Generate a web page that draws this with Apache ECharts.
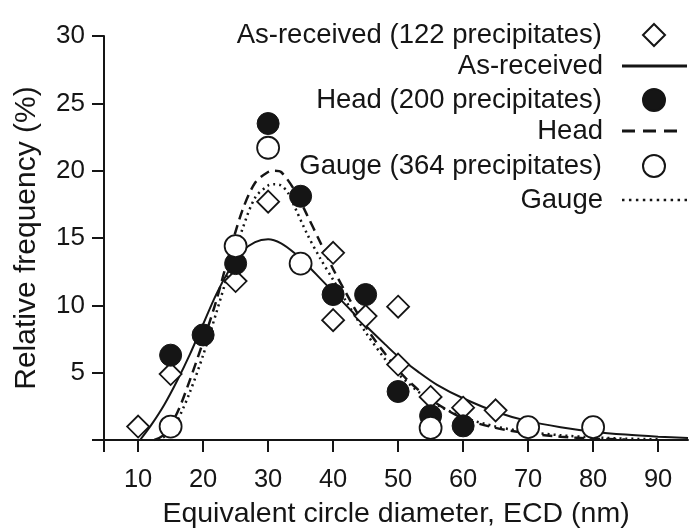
<!DOCTYPE html>
<html>
<head>
<meta charset="utf-8">
<script src="https://cdn.jsdelivr.net/npm/echarts@6/dist/echarts.min.js"></script>
<style>
html,body{margin:0;padding:0;background:#fff;}
#chart{width:690px;height:529px;}
</style>
</head>
<body>
<div id="chart"></div>
<script>
// ---- data ----
const xTickValues = [10, 20, 30, 40, 50, 60, 70, 80, 90];
const yTickValues = [5, 10, 15, 20, 25, 30];

const asReceivedName = 'As-received (122 precipitates)';
const asReceivedFitName = 'As-received';
const headName = 'Head (200 precipitates)';
const headFitName = 'Head';
const gaugeName = 'Gauge (364 precipitates)';
const gaugeFitName = 'Gauge';

// measured points [ECD nm, relative frequency %]
const asReceivedPoints = [[10,1.0],[15,4.9],[25,11.8],[30,17.7],[40,13.9],[40,8.9],[45,9.2],[50,9.9],[50,5.6],[55,3.2],[60,2.4],[65,2.2]];
const headPoints = [[15,6.3],[20,7.8],[25,13.1],[30,23.5],[35,18.1],[40,10.8],[45,10.8],[50,3.6],[55,1.8],[60,1.05]];
const gaugePoints = [[15,1.0],[25,14.4],[30,21.7],[35,13.1],[55,0.9],[70,0.95],[80,0.95]];

// fitted curves
const asReceivedFit = [[10.3,0],[12,1.1],[14,2.6],[16,4.4],[18,6.4],[20,8.6],[22,10.8],[24,12.6],[26,14.0],[28,14.7],[30,14.9],[32,14.6],[34,13.9],[36,13.0],[38,12.0],[40,11.0],[42,10.0],[45,8.5],[48,7.1],[50,6.2],[53,5.1],[56,4.1],[60,3.1],[65,2.1],[70,1.4],[75,0.95],[80,0.62],[85,0.4],[90,0.25],[94.6,0.15]];
const headFit = [[12.5,0],[14,0.4],[16,2.0],[18,4.5],[20,7.3],[22,10.3],[24,13.8],[26,17.0],[28,19.1],[30,19.9],[31,20.0],[32,19.9],[34,18.6],[36,16.7],[38,14.7],[40,12.7],[42,10.9],[44,9.2],[46,7.7],[48,6.4],[50,5.2],[52,4.2],[55,3.0],[60,1.6],[65,0.9],[70,0.5],[75,0.25],[80,0.1],[85,0.04]];
const gaugeFit = [[13,0],[14.5,0.4],[16,1.4],[18,3.6],[20,6.3],[22,9.4],[24,12.6],[26,15.6],[28,18.0],[30,18.9],[31,19.0],[32,18.9],[33,18.4],[34,17.4],[36,15.3],[38,13.5],[40,11.9],[42,10.3],[45,8.0],[48,6.0],[50,4.9],[55,2.9],[60,1.7],[65,1.0],[70,0.6],[75,0.35],[80,0.2],[85,0.1],[90,0.05]];

// ---- chart ----
const INK = '#151515';
const FONT = '"Liberation Sans", Arial, Helvetica, sans-serif';
const LEGEND_FONT = 27.5;
const chart = echarts.init(document.getElementById('chart'), null, {renderer: 'canvas'});

// legend row helpers (icon on the right, text right-aligned)
function markerLegend(name, centerY) {
  return {
    data: [name], orient: 'vertical', align: 'right',
    right: 24, top: centerY - 11, padding: 0,
    itemWidth: 22, itemHeight: 22, selectedMode: false,
    textStyle: {fontFamily: FONT, fontSize: LEGEND_FONT, color: INK, lineHeight: 22, padding: [0, 36, 0, 0]}
  };
}
function lineLegend(name, centerY, icon, w, h, right, pad) {
  return {
    data: [name], orient: 'vertical', align: 'right',
    right: right, top: centerY - 11, padding: 0,
    icon: icon, itemWidth: w, itemHeight: h, selectedMode: false,
    itemStyle: {color: INK, borderWidth: 0},
    textStyle: {fontFamily: FONT, fontSize: LEGEND_FONT, color: INK, lineHeight: 22, padding: [0, pad, 0, 0]}
  };
}
const dashIcon = 'path://M0,0h13v3h-13zM21,0h13v3h-13zM42,0h13v3h-13z';
const dotIcon = 'path://M0,0h2.5v2.5h-2.5zM7,0h2.5v2.5h-2.5zM14,0h2.5v2.5h-2.5zM21,0h2.5v2.5h-2.5zM28,0h2.5v2.5h-2.5zM35,0h2.5v2.5h-2.5zM42,0h2.5v2.5h-2.5zM49,0h2.5v2.5h-2.5zM56,0h2.5v2.5h-2.5zM63,0h2.5v2.5h-2.5z';

const option = {
  backgroundColor: '#ffffff',
  animation: false,
  grid: {left: 104, right: 2, top: 36, bottom: 89, containLabel: false, outerBoundsMode: 'none'},
  legend: [
    markerLegend(asReceivedName, 32),
    lineLegend(asReceivedFitName, 63, 'rect', 65, 3, 3, 14),
    markerLegend(headName, 97),
    lineLegend(headFitName, 128, dashIcon, 55, 3, 13, 14),
    markerLegend(gaugeName, 163),
    lineLegend(gaugeFitName, 197, dotIcon, 65, 2.5, 3, 14)
  ],
  xAxis: {
    type: 'value',
    min: 4.75,
    max: 94.6,
    splitLine: {show: false},
    axisLine: {show: true, onZero: false, lineStyle: {color: INK, width: 2}},
    axisTick: {show: true, inside: false, length: 12, customValues: [4.75].concat(xTickValues), lineStyle: {color: INK, width: 2}},
    axisLabel: {customValues: xTickValues, margin: 27, fontFamily: FONT, fontSize: 25.5, color: INK, hideOverlap: false},
    name: 'Equivalent circle diameter, ECD (nm)',
    nameLocation: 'middle',
    nameGap: 60,
    nameTextStyle: {fontFamily: FONT, fontSize: 28.5, color: INK}
  },
  yAxis: {
    type: 'value',
    min: 0,
    max: 30,
    splitLine: {show: false},
    axisLine: {show: true, onZero: false, lineStyle: {color: INK, width: 2}},
    axisTick: {show: true, inside: false, length: 12, customValues: [0].concat(yTickValues), lineStyle: {color: INK, width: 2}},
    axisLabel: {customValues: yTickValues, margin: 19, fontFamily: FONT, fontSize: 26, color: INK},
    name: 'Relative frequency (%)',
    nameLocation: 'middle',
    nameGap: 62,
    nameRotate: 90,
    nameTextStyle: {fontFamily: FONT, fontSize: 30, color: INK}
  },
  series: [
    {
      name: asReceivedFitName, type: 'line', data: asReceivedFit, smooth: 0.3,
      symbol: 'none', color: INK, lineStyle: {color: INK, width: 2, type: 'solid'}, z: 2
    },
    {
      name: headFitName, type: 'line', data: headFit, smooth: 0.3,
      symbol: 'none', color: INK, lineStyle: {color: INK, width: 2.5, type: [10, 6]}, z: 2
    },
    {
      name: gaugeFitName, type: 'line', data: gaugeFit, smooth: 0.3,
      symbol: 'none', color: INK, lineStyle: {color: INK, width: 2.5, type: [2, 4]}, z: 2
    },
    {
      name: asReceivedName, type: 'scatter', data: asReceivedPoints,
      symbol: 'diamond', symbolSize: 22, color: '#ffffff',
      itemStyle: {color: '#ffffff', borderColor: INK, borderWidth: 1.8, opacity: 1}, z: 3
    },
    {
      name: headName, type: 'scatter', data: headPoints,
      symbol: 'circle', symbolSize: 22, color: INK,
      itemStyle: {color: INK, borderColor: INK, borderWidth: 1, opacity: 1}, z: 4
    },
    {
      name: gaugeName, type: 'scatter', data: gaugePoints,
      symbol: 'circle', symbolSize: 22, color: '#ffffff',
      itemStyle: {color: '#ffffff', borderColor: INK, borderWidth: 1.8, opacity: 1}, z: 5
    }
  ]
};
chart.setOption(option);
</script>
</body>
</html>
